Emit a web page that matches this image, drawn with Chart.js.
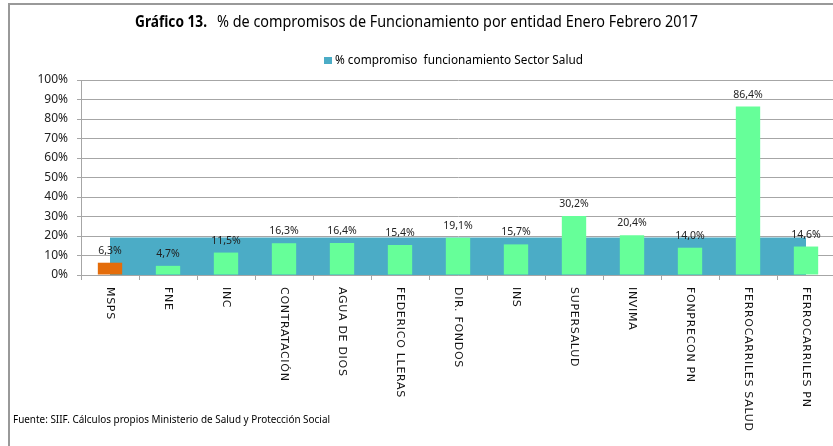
<!DOCTYPE html>
<html><head><meta charset="utf-8">
<script src="https://cdn.jsdelivr.net/npm/chart.js@4"></script>
<style>html,body{margin:0;padding:0;overflow:hidden;background:#fff}#wrap{width:835px;height:446px;position:relative}</style>
</head><body><div id="wrap"><canvas id="c" width="835" height="446"></canvas></div>
<script>
const categories = ['MSPS','FNE','INC','CONTRATACIÓN','AGUA DE DIOS','FEDERICO LLERAS','DIR. FONDOS','INS','SUPERSALUD','INVIMA','FONPRECON PN','FERROCARRILES SALUD','FERROCARRILES PN'];
const entityValues = [6.3, 4.7, 11.5, 16.3, 16.4, 15.4, 19.1, 15.7, 30.2, 20.4, 14.0, 86.4, 14.6];
const sectorValues = [19.2, 19.2, 19.2, 19.2, 19.2, 19.2, 19.2, 19.2, 19.2, 19.2, 19.2, 19.2, 19.2];
const yTickValues = [0, 10, 20, 30, 40, 50, 60, 70, 80, 90, 100];
const titleBold = 'Gráfico 13.';
const titleRest = '% de compromisos de Funcionamiento por entidad Enero Febrero 2017';
const legendLabel = '% compromiso  funcionamiento Sector Salud';
const footerText = 'Fuente: SIIF. Cálculos propios Ministerio de Salud y Protección Social';

const BLUE = '#4BACC6', GREEN = '#66FF99', ORANGE = '#E46C0A', GRID = '#a6a6a6';
const barColors = entityValues.map((v, i) => i === 0 ? ORANGE : GREEN);

function fitText(ctx, text, x, y, targetW, font, color) {
  ctx.save();
  ctx.font = font;
  ctx.fillStyle = color || '#000';
  ctx.textAlign = 'left';
  ctx.textBaseline = 'alphabetic';
  const w = ctx.measureText(text).width;
  ctx.translate(x, y);
  ctx.scale(targetW / w, 1);
  ctx.fillText(text, 0, 0);
  ctx.restore();
}

const decor = {
  id: 'decor',
  beforeDraw(chart) {
    const ctx = chart.ctx;
    ctx.save();
    ctx.strokeStyle = '#999';
    ctx.lineWidth = 2;
    ctx.beginPath();
    ctx.moveTo(9, 460); ctx.lineTo(9, 4); ctx.lineTo(840, 4);
    ctx.stroke();
    ctx.restore();
  },
  afterDatasetsDraw(chart) {
    const ctx = chart.ctx;
    const meta = chart.getDatasetMeta(0);
    ctx.save();
    ctx.font = '10.5px "Noto Sans"';
    ctx.fillStyle = '#222';
    ctx.textAlign = 'center';
    ctx.textBaseline = 'alphabetic';
    meta.data.forEach((el, i) => {
      const t = entityValues[i].toFixed(1).replace('.', ',') + '%';
      ctx.fillText(t, el.x, el.y - 9);
    });
    ctx.restore();
  },
  afterDraw(chart) {
    const ctx = chart.ctx;
    const xs = chart.scales.x;
    // category labels rotated clockwise
    ctx.save();
    ctx.font = '11px "DejaVu Sans"';
    try { ctx.letterSpacing = '0.7px'; } catch (e) {}
    ctx.fillStyle = '#111';
    ctx.textAlign = 'left';
    ctx.textBaseline = 'middle';
    categories.forEach((c, i) => {
      const x = xs.getPixelForValue(i);
      ctx.save();
      ctx.translate(x, xs.top + 12);
      ctx.rotate(Math.PI / 2);
      ctx.fillText(c, 0, 0);
      ctx.restore();
    });
    ctx.restore();
    // title
    fitText(ctx, titleBold, 135, 27, 72, 'bold 16px "Noto Sans"', '#000');
    fitText(ctx, titleRest, 217, 27, 481, '16px "Noto Sans"', '#000');
    // legend
    ctx.save();
    ctx.fillStyle = BLUE;
    ctx.fillRect(324, 57, 8, 7);
    ctx.restore();
    fitText(ctx, legendLabel, 335, 64, 248, '12px "Noto Sans"', '#000');
    // footer
    fitText(ctx, footerText, 13, 423, 317, '10px "Noto Sans"', '#000');
  }
};

new Chart(document.getElementById('c'), {
  data: {
    labels: categories,
    datasets: [
      {
        type: 'bar',
        label: 'Entidad',
        data: entityValues,
        backgroundColor: barColors,
        borderWidth: 0,
        categoryPercentage: 1,
        barPercentage: 0.42,
        order: 1
      },
      {
        type: 'line',
        label: legendLabel,
        data: sectorValues,
        backgroundColor: BLUE,
        borderColor: BLUE,
        borderWidth: 0,
        pointRadius: 0,
        fill: 'origin',
        tension: 0,
        order: 2
      }
    ]
  },
  options: {
    responsive: false,
    animation: false,
    layout: { padding: { top: 80, left: 0, right: 0, bottom: 0 } },
    plugins: { legend: { display: false }, title: { display: false }, tooltip: { enabled: false } },
    scales: {
      x: {
        offset: true,
        grid: { display: true, drawOnChartArea: false, drawTicks: true, tickLength: 5, offset: true, color: GRID },
        border: { display: true, color: GRID, width: 1 },
        ticks: { display: false },
        afterFit: (s) => { s.height = 171; }
      },
      y: {
        min: 0, max: 100,
        afterBuildTicks: (s) => { s.ticks = yTickValues.map(v => ({ value: v })); },
        grid: { color: GRID, tickLength: 4 },
        border: { display: true, color: GRID, width: 1 },
        ticks: { padding: 9, color: '#222', font: { family: 'Noto Sans', size: 12 }, callback: (v) => v + '%' },
        afterFit: (s) => { s.width = 81; }
      }
    }
  },
  plugins: [decor]
});
</script></body></html>
